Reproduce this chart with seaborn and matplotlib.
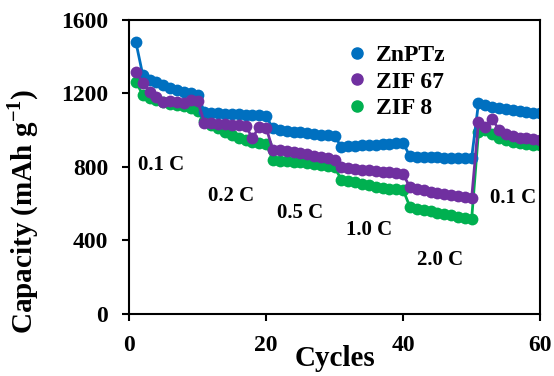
import matplotlib
matplotlib.use("Agg")
import matplotlib.pyplot as plt
import pandas as pd
import seaborn as sns

cycles = list(range(1, 61))

znptz = [1478, 1300, 1273, 1260, 1246, 1232, 1219, 1210, 1203, 1190,
         1100, 1095, 1092, 1090, 1090, 1087, 1085, 1082, 1080, 1076,
         1010, 1002, 997, 992, 988, 983, 980, 976, 972, 966,
         910, 913, 915, 918, 920, 922, 925, 927, 930, 930,
         858, 855, 854, 853, 852, 851, 850, 850, 849, 849,
         1148, 1135, 1125, 1120, 1115, 1110, 1105, 1100, 1095, 1093]
zif67 = [1319, 1257, 1210, 1180, 1155, 1160, 1155, 1150, 1165, 1160,
         1040, 1037, 1035, 1033, 1030, 1028, 1025, 957, 1020, 1014,
         892, 890, 885, 880, 875, 868, 862, 856, 850, 840,
         800, 795, 790, 786, 782, 778, 774, 770, 766, 760,
         690, 680, 672, 664, 658, 652, 646, 640, 634, 630,
         1045, 1020, 1061, 1001, 980, 968, 960, 955, 950, 948]
zif8 = [1264, 1192, 1175, 1165, 1155, 1145, 1137, 1130, 1121, 1105,
        1050, 1030, 1010, 990, 975, 960, 945, 935, 930, 925,
        838, 835, 830, 828, 825, 820, 815, 810, 805, 798,
        730, 725, 717, 708, 700, 692, 686, 681, 678, 675,
        582, 572, 566, 558, 551, 545, 537, 530, 522, 515,
        992, 1001, 980, 960, 948, 938, 930, 925, 920, 917]

series_names = ["ZnPTz", "ZIF 67", "ZIF 8"]
series_colors = ["#0070C0", "#7030A0", "#00B050"]
draw_order = ["ZIF 8", "ZnPTz", "ZIF 67"]   # purple ends up on top

rate_labels = ["0.1 C", "0.2 C", "0.5 C", "1.0 C", "2.0 C", "0.1 C"]
rate_x = [1.3, 11.5, 21.6, 31.7, 42.0, 52.7]
rate_y = [810, 640, 550, 457, 294, 631]

df = pd.DataFrame({
    "Cycles": cycles * 3,
    "Capacity": znptz + zif67 + zif8,
    "Sample": [n for n in series_names for _ in cycles],
})

sns.set_style("ticks", {"text.color": "black", "axes.labelcolor": "black",
                        "xtick.color": "black", "ytick.color": "black",
                        "axes.edgecolor": "black"})
plt.rcParams["font.family"] = ["Liberation Serif", "DejaVu Serif"]
plt.rcParams["font.weight"] = "bold"
plt.rcParams["mathtext.fontset"] = "custom"
plt.rcParams["mathtext.bf"] = "Liberation Serif:bold"

fig = plt.figure(figsize=(5.54, 3.76), dpi=100)
ax = fig.add_axes([0.233, 0.165, 0.742, 0.782])

palette = dict(zip(series_names, series_colors))
sns.lineplot(data=df, x="Cycles", y="Capacity", hue="Sample",
             hue_order=draw_order, palette=palette,
             marker="o", markersize=8.5, markeredgewidth=0, linewidth=2,
             legend=False, ax=ax)

for name, col in zip(series_names, series_colors):
    ax.plot([], [], "o", color=col, markersize=8, label=name)
ax.legend(loc="upper left", bbox_to_anchor=(0.485, 0.965), frameon=False,
          handletextpad=0.2, handlelength=1.2, labelspacing=0.22,
          borderaxespad=0.2,
          prop={"family": "Liberation Serif", "weight": "bold", "size": 17})

for lab, xx, yy in zip(rate_labels, rate_x, rate_y):
    ax.text(xx, yy, lab, fontsize=15, fontweight="bold", va="center", ha="left")

ax.set_xlim(0, 60)
ax.set_ylim(0, 1600)
ax.set_xticks([0, 20, 40, 60])
ax.set_yticks([0, 400, 800, 1200, 1600])
ax.tick_params(labelsize=17, width=1.5, length=5, direction="out", pad=10)
for lab in ax.get_xticklabels() + ax.get_yticklabels():
    lab.set_fontweight("bold")
for sp in ax.spines.values():
    sp.set_linewidth(1.5)
    sp.set_visible(True)

ax.set_xlabel("Cycles", fontsize=21, fontweight="bold")
ax.xaxis.set_label_coords(0.5, -0.105)
ax.set_ylabel(r"Capacity (mAh g$^{\mathbf{-1}}$)", fontsize=21, fontweight="bold")
ax.yaxis.set_label_coords(-0.215, 0.35)

fig.savefig("out.png", dpi=100)
